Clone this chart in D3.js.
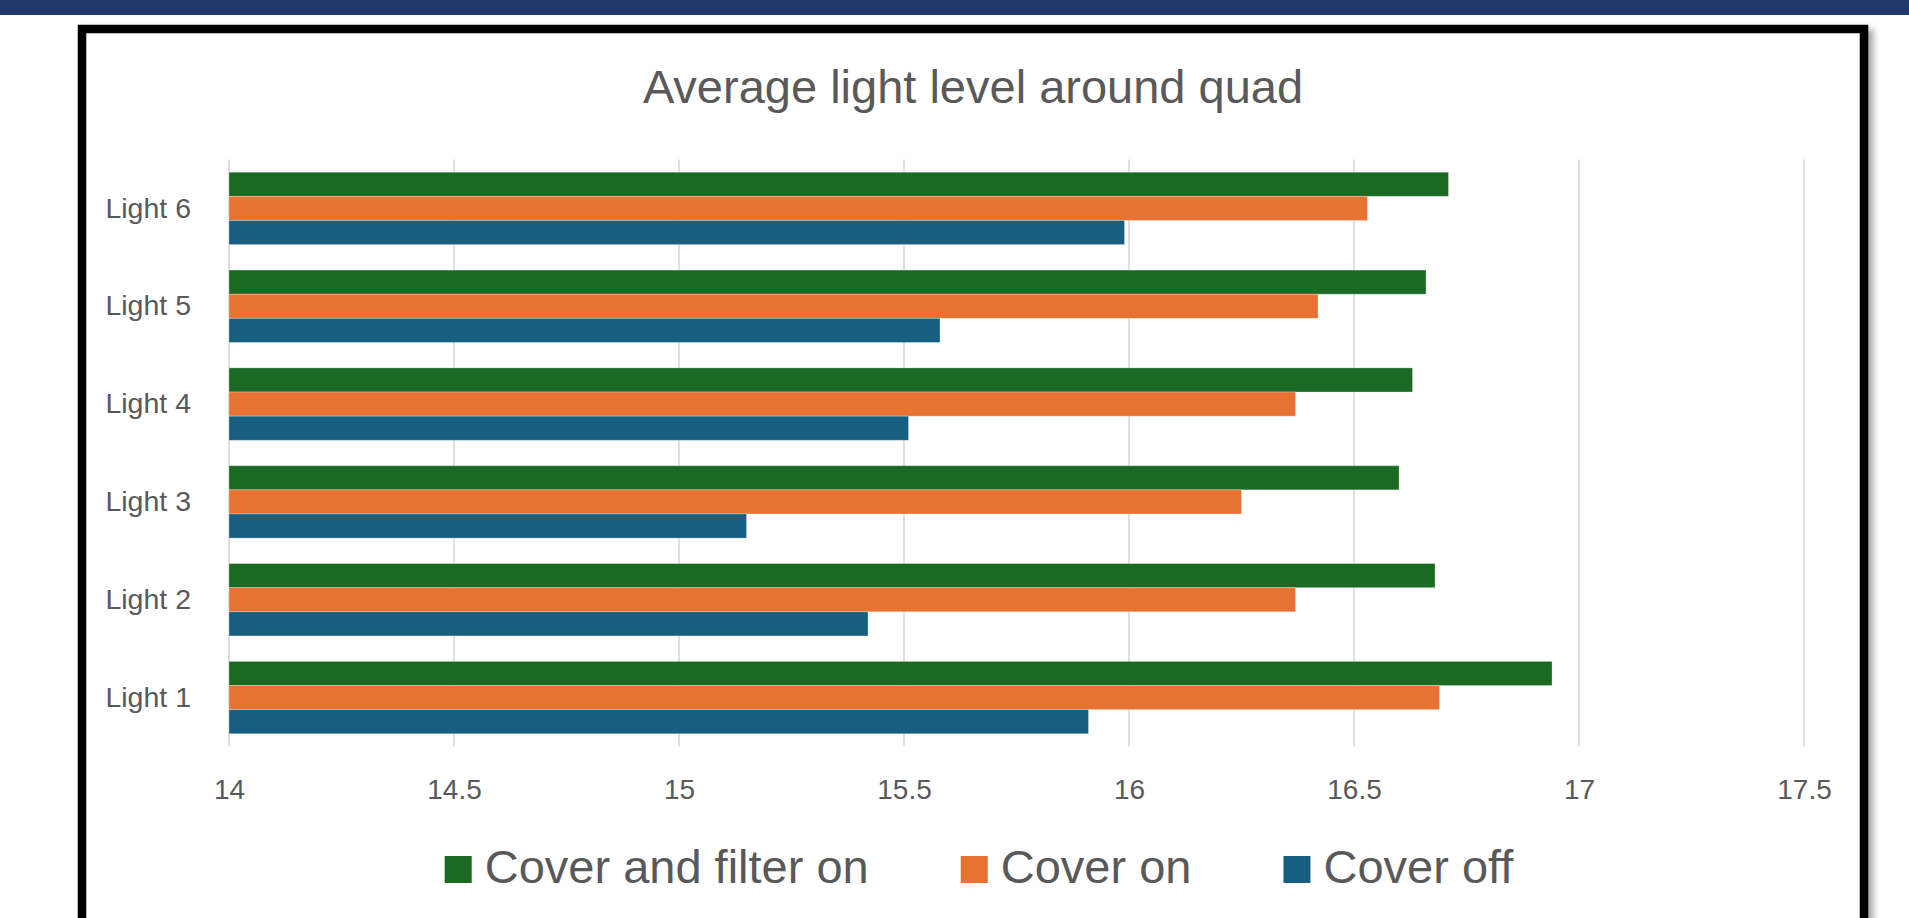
<!DOCTYPE html>
<html>
<head>
<meta charset="utf-8">
<script src="https://cdn.jsdelivr.net/npm/d3@7"></script>
<style>
  html, body { margin: 0; padding: 0; background: #ffffff; overflow: hidden; }
  svg { display: block; }
  text { font-family: "Liberation Sans", Arial, sans-serif; fill: #595959; }
</style>
</head>
<body>
<svg id="chart" width="1909" height="918"></svg>
<script>
// Light readings per position, one array per test condition
const categories = ["Light 1", "Light 2", "Light 3", "Light 4", "Light 5", "Light 6"];
const coverFilterOn = [16.94, 16.68, 16.60, 16.63, 16.66, 16.71];
const coverOn       = [16.69, 16.37, 16.25, 16.37, 16.42, 16.53];
const coverOff      = [15.91, 15.42, 15.15, 15.51, 15.58, 15.99];

const seriesNames  = ["Cover and filter on", "Cover on", "Cover off"];
const seriesColors = ["#1B6A24", "#E87231", "#165F81"];
const tickValues   = [14, 14.5, 15, 15.5, 16, 16.5, 17, 17.5];
const tickLabels   = ["14", "14.5", "15", "15.5", "16", "16.5", "17", "17.5"];

const titleText = "Average light level around quad";

const svg = d3.select("#chart");

// Page header band and framed card
const defs = svg.append("defs");
const shadow = defs.append("filter").attr("id", "cardShadow")
  .attr("x", "-5%").attr("y", "-5%").attr("width", "110%").attr("height", "110%");
shadow.append("feDropShadow")
  .attr("dx", 5).attr("dy", 4).attr("stdDeviation", 3)
  .attr("flood-color", "#000").attr("flood-opacity", 0.35);

svg.append("rect").attr("x", 0).attr("y", 0).attr("width", 1909).attr("height", 15)
  .attr("fill", "#20396A");

svg.append("rect")
  .attr("x", 82).attr("y", 29).attr("width", 1782).attr("height", 960)
  .attr("fill", "#ffffff").attr("stroke", "#000000").attr("stroke-width", 8.5)
  .attr("filter", "url(#cardShadow)");

// Plot geometry
const plot = { left: 229, right: 1804, top: 159.5, bottom: 746.5 };

const x = d3.scaleLinear().domain([14, 17.5]).range([plot.left, plot.right]);

const y = d3.scaleBand()
  .domain(categories.slice().reverse())
  .range([plot.top, plot.bottom])
  .paddingInner(0.26)
  .paddingOuter(0.13);

const ySub = d3.scaleBand()
  .domain(seriesNames)
  .range([0, y.bandwidth()])
  .padding(0);

// Vertical gridlines
svg.append("g").selectAll("line")
  .data(tickValues)
  .join("line")
  .attr("x1", d => x(d)).attr("x2", d => x(d))
  .attr("y1", plot.top).attr("y2", plot.bottom)
  .attr("stroke", "#D9D9D9").attr("stroke-width", 1.6);

// X axis labels
const xAxis = d3.axisBottom(x)
  .tickValues(tickValues)
  .tickFormat((d, i) => tickLabels[i])
  .tickSize(0)
  .tickPadding(0);

const xg = svg.append("g")
  .attr("transform", `translate(0, ${plot.bottom})`)
  .call(xAxis);
xg.select(".domain").remove();
xg.selectAll("text")
  .attr("y", 52).attr("dy", null)
  .style("font-size", "28px")
  .style("font-family", "\"Liberation Sans\", Arial, sans-serif")
  .attr("fill", "#595959");

// Y axis category labels
const yAxis = d3.axisLeft(y).tickSize(0).tickPadding(38);
const yg = svg.append("g")
  .attr("transform", `translate(${plot.left}, 0)`)
  .call(yAxis);
yg.select(".domain").remove();
yg.selectAll("text")
  .style("font-size", "28.5px")
  .style("font-family", "\"Liberation Sans\", Arial, sans-serif")
  .attr("fill", "#595959");

// Bars
const rows = categories.map((c, i) => ({
  category: c,
  values: [coverFilterOn[i], coverOn[i], coverOff[i]]
}));

const groups = svg.append("g").selectAll("g")
  .data(rows)
  .join("g")
  .attr("transform", d => `translate(0, ${y(d.category)})`);

groups.selectAll("rect")
  .data(d => d.values.map((v, j) => ({ name: seriesNames[j], value: v, color: seriesColors[j] })))
  .join("rect")
  .attr("x", x(14))
  .attr("y", d => ySub(d.name))
  .attr("width", d => x(d.value) - x(14))
  .attr("height", ySub.bandwidth())
  .attr("fill", d => d.color)
  .attr("stroke", "#ffffff")
  .attr("stroke-opacity", 0.35)
  .attr("stroke-width", 0.8);

// Title
svg.append("text")
  .attr("x", 973).attr("y", 103)
  .attr("text-anchor", "middle")
  .style("font-size", "47px")
  .text(titleText);

// Legend
const legend = svg.append("g");
const swatch = 27, swatchGap = 13, itemGap = 92, legendBaseline = 883;
const items = legend.selectAll("g")
  .data(seriesNames)
  .join("g");
items.append("rect")
  .attr("width", swatch).attr("height", swatch)
  .attr("y", legendBaseline - swatch)
  .attr("fill", (d, i) => seriesColors[i]);
items.append("text")
  .attr("x", swatch + swatchGap)
  .attr("y", legendBaseline)
  .style("font-size", "47px")
  .text(d => d);

let offset = 0;
const widths = [];
items.each(function () {
  const w = swatch + swatchGap + d3.select(this).select("text").node().getComputedTextLength();
  widths.push(w);
});
const total = d3.sum(widths) + itemGap * (widths.length - 1);
let start = 979 - total / 2;
items.attr("transform", (d, i) => {
  const tx = start + offset;
  offset += widths[i] + itemGap;
  return `translate(${tx}, 0)`;
});
</script>
</body>
</html>
